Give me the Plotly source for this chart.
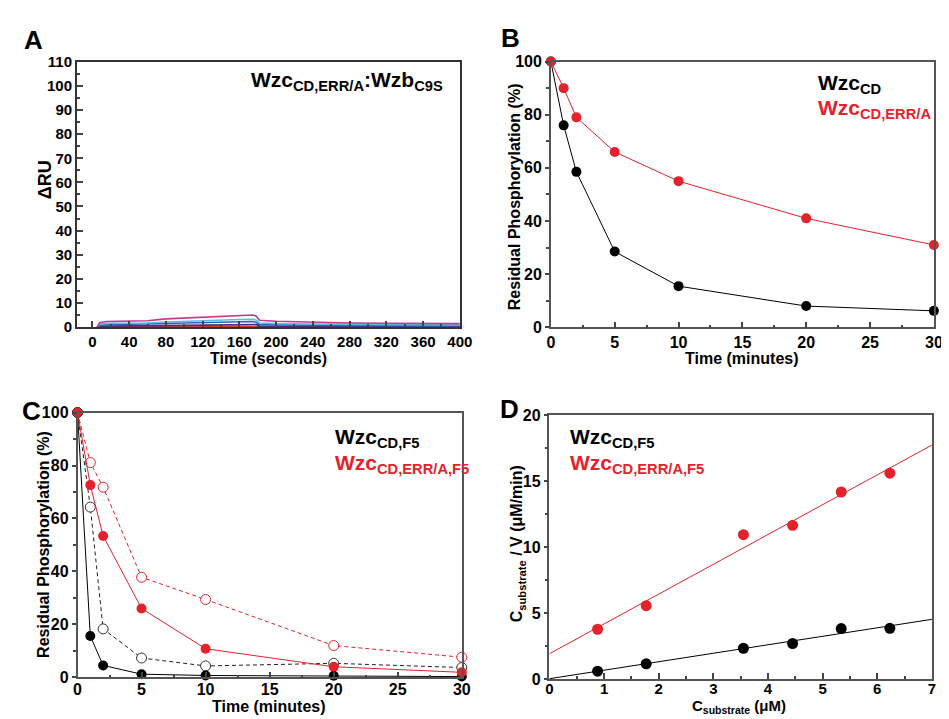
import numpy as np
import plotly.graph_objects as go

W, H = 949, 719
RED = "#e3222b"
FONT = "Liberation Sans, Arial, Helvetica, sans-serif"

# ---------- Panel A : SPR sensorgrams ----------
a_time = [5, 8, 15, 40, 60, 80, 100, 120, 140, 160, 175, 178, 182, 200, 240, 280, 320, 360, 400]
a_magenta = [0, 1.8, 2.3, 2.5, 2.6, 3.4, 3.8, 4.2, 4.6, 4.8, 5.0, 4.6, 2.8, 2.4, 1.9, 1.7, 1.6, 1.5, 1.4]
a_cyan = [0, 1.2, 1.5, 1.6, 1.7, 2.1, 2.4, 2.7, 3.0, 3.1, 3.2, 2.9, 1.7, 1.4, 1.2, 1.1, 1.0, 1.0, 0.9]
a_blue = [0, 0.8, 1.0, 1.1, 1.2, 1.5, 1.7, 1.9, 2.1, 2.2, 2.3, 2.0, 1.0, 0.9, 0.7, 0.6, 0.6, 0.5, 0.5]
a_purple = [0, 0.3, 0.4, 0.5, 0.5, 0.6, 0.7, 0.8, 1.0, 1.1, 1.2, 1.0, 0.4, 0.3, 0.3, 0.3, 0.2, 0.2, 0.2]
a_red = [0, 0.1, 0.1, 0.1, 0.1, 0.1, 0.1, 0.1, 0.15, 0.15, 0.15, 0.1, 0.1, 0.1, 0.1, 0.1, 0.1, 0.1, 0.1]

# ---------- Panel B ----------
b_time = [0, 1, 2, 5, 10, 20, 30]
b_wzc_cd = [100, 76, 58.5, 28.5, 15.5, 8, 6.2]
b_wzc_err = [100, 90, 79, 66, 55, 41, 31]

# ---------- Panel C ----------
c_time = [0, 1, 2, 5, 10, 20, 30]
c_f5_filled = [100, 15.6, 4.5, 1.2, 0.7, 0.6, 0.3]
c_f5_open = [100, 64.3, 18.3, 7.3, 4.3, 5.3, 3.7]
c_err_f5_filled = [100, 72.6, 53.4, 26, 10.8, 4.0, 1.9]
c_err_f5_open = [100, 81.1, 71.8, 37.8, 29.4, 12.0, 7.6]

# ---------- Panel D ----------
d_conc = [0.88, 1.77, 3.55, 4.45, 5.34, 6.23]
d_f5 = [0.59, 1.15, 2.33, 2.69, 3.82, 3.84]
d_err_f5 = [3.77, 5.56, 10.94, 11.65, 14.17, 15.6]
d_fit_x = [0, 7]

fig = go.Figure()

# Panel A traces
for ys, col in [(a_red, "#d23a3a"), (a_purple, "#4b2d86"), (a_blue, "#2f5fc4"),
                (a_cyan, "#4fc3dc"), (a_magenta, "#c8378f")]:
    fig.add_trace(go.Scatter(x=a_time, y=ys, mode="lines", line=dict(color=col, width=1.6),
                             xaxis="x", yaxis="y", showlegend=False))

# Panel B traces
fig.add_trace(go.Scatter(x=b_time, y=b_wzc_cd, mode="lines+markers",
                         line=dict(color="black", width=1), marker=dict(color="black", size=10),
                         xaxis="x2", yaxis="y2", showlegend=False, cliponaxis=False))
fig.add_trace(go.Scatter(x=b_time, y=b_wzc_err, mode="lines+markers",
                         line=dict(color=RED, width=1), marker=dict(color=RED, size=10),
                         xaxis="x2", yaxis="y2", showlegend=False, cliponaxis=False))

# Panel C traces
fig.add_trace(go.Scatter(x=c_time, y=c_err_f5_open, mode="lines+markers",
                         line=dict(color=RED, width=1, dash="4px,3px"),
                         marker=dict(color="white", size=10, line=dict(color=RED, width=1)),
                         xaxis="x3", yaxis="y3", showlegend=False, cliponaxis=False))
fig.add_trace(go.Scatter(x=c_time, y=c_f5_open, mode="lines+markers",
                         line=dict(color="#222", width=1, dash="4px,3px"),
                         marker=dict(color="white", size=10, line=dict(color="#333", width=1)),
                         xaxis="x3", yaxis="y3", showlegend=False, cliponaxis=False))
fig.add_trace(go.Scatter(x=c_time, y=c_f5_filled, mode="lines+markers",
                         line=dict(color="black", width=1), marker=dict(color="black", size=10),
                         xaxis="x3", yaxis="y3", showlegend=False, cliponaxis=False))
fig.add_trace(go.Scatter(x=c_time, y=c_err_f5_filled, mode="lines+markers",
                         line=dict(color=RED, width=1), marker=dict(color=RED, size=10),
                         xaxis="x3", yaxis="y3", showlegend=False, cliponaxis=False))

# Panel D traces (linear fits from the points)
for ys, col in [(d_f5, "black"), (d_err_f5, RED)]:
    slope, icpt = np.polyfit(d_conc, ys, 1)
    fit_y = [icpt + slope * xv for xv in d_fit_x]
    fig.add_trace(go.Scatter(x=d_fit_x, y=fit_y, mode="lines", line=dict(color=col, width=1),
                             xaxis="x4", yaxis="y4", showlegend=False))
    fig.add_trace(go.Scatter(x=d_conc, y=ys, mode="markers", marker=dict(color=col, size=11),
                             xaxis="x4", yaxis="y4", showlegend=False, cliponaxis=False))


def px(x):
    return x / W


def py(y):
    return 1 - y / H


tickfont = dict(family=FONT, size=16, color="black", weight="bold")
common = dict(showline=True, mirror=True, linecolor="#555", linewidth=1.5, showgrid=False,
              zeroline=False, tickfont=tickfont, tickcolor="#444", tickwidth=1.5)
fontA = dict(family=FONT, size=15, color="black", weight="bold")

fig.update_layout(
    width=W, height=H, margin=dict(l=0, r=0, t=0, b=0),
    paper_bgcolor="white", plot_bgcolor="white",
    font=dict(family=FONT, color="black", size=14),
    xaxis=dict(domain=[px(66), px(456)], range=[-17, 400], anchor="y",
               tickvals=[0, 40, 80, 120, 160, 200, 240, 280, 320, 360, 400],
               ticks="inside", ticklen=6, minor=dict(dtick=20, tick0=0, ticks="inside", ticklen=3, tickcolor="#444"),
               **{**common, "tickfont": fontA, "linecolor": "#333"}),
    yaxis=dict(domain=[py(318), py(46)], range=[0, 110], anchor="x", dtick=10,
               ticks="inside", ticklen=6, minor=dict(dtick=5, ticks="inside", ticklen=3, tickcolor="#444"),
               **{**common, "tickfont": fontA, "linecolor": "#333"}),
    xaxis2=dict(domain=[px(548.7), px(938.7)], range=[0, 30], anchor="y2", dtick=5,
                ticks="inside", ticklen=6, minor=dict(dtick=2.5, ticks="inside", ticklen=3, tickcolor="#444"), **common),
    yaxis2=dict(domain=[py(318.3), py(45.7)], range=[0, 100], anchor="x2", dtick=20,
                ticks="outside", ticklen=4, minor=dict(dtick=10, ticks="outside", ticklen=3, tickcolor="#444"), **common),
    xaxis3=dict(domain=[px(66.7), px(458)], range=[0, 30], anchor="y3", dtick=5, ticklabelstandoff=-3,
                ticks="inside", ticklen=6, minor=dict(dtick=2.5, ticks="inside", ticklen=3, tickcolor="#444"), **common),
    yaxis3=dict(domain=[py(677.3), py(405.7)], range=[0, 100], anchor="x3", dtick=20,
                ticks="outside", ticklen=4, minor=dict(dtick=10, ticks="outside", ticklen=3, tickcolor="#444"), **common),
    xaxis4=dict(domain=[px(547.3), px(936.7)], range=[0, 7], anchor="y4", dtick=1, ticklabelstandoff=-5,
                ticks="inside", ticklen=6, minor=dict(dtick=0.5, ticks="inside", ticklen=3, tickcolor="#444"),
                **{**common, "tickfont": fontA}),
    yaxis4=dict(domain=[py(679), py(408.3)], range=[0, 20], anchor="x4", dtick=5,
                ticks="outside", ticklen=4, minor=dict(dtick=2.5, ticks="outside", ticklen=3, tickcolor="#444"), **common),
)


def ann(text, x, y, size, color="black", xanchor="center", yanchor="middle", angle=0):
    fig.add_annotation(text=text, x=px(x), y=py(y), xref="paper", yref="paper",
                       xanchor=xanchor, yanchor=yanchor, showarrow=False, textangle=angle,
                       font=dict(family=FONT, size=size, color=color))


# Panel letters
ann("<b>A</b>", 22, 24, 26)
ann("<b>B</b>", 508, 22, 26)
ann("<b>C</b>", 20, 404, 26)
ann("<b>D</b>", 507, 402, 26)

# Axis titles
ann("<b>Time (seconds)</b>", 261, 350, 16)
ann("<b>ΔRU</b>", 33, 167, 18, angle=-90)
ann("<b>Time (minutes)</b>", 743, 350, 16)
ann("<b>Residual Phosphorylation (%)</b>", 512, 184, 16, angle=-90)
ann("<b>Time (minutes)</b>", 262, 707, 16)
ann("<b>Residual Phosphorylation (%)</b>", 32, 541, 16, angle=-90)
ann("<b>C<sub>substrate</sub> (μM)</b>", 740, 719, 15, yanchor="bottom")
ann("<b>C<sub>substrate</sub> / V (μM/min)</b>", 515, 540, 16, angle=-90)

# In-panel labels
ann("<b>Wzc<sub>CD,ERR/A</sub>:Wzb<sub>C9S</sub></b>", 241, 66, 21, xanchor="left")
ann("<b>Wzc<sub>CD</sub></b>", 819, 69, 21, xanchor="left")
ann("<b>Wzc<sub>CD,ERR/A</sub></b>", 819, 94, 21, color=RED, xanchor="left")
ann("<b>Wzc<sub>CD,F5</sub></b>", 327, 432, 21, xanchor="left")
ann("<b>Wzc<sub>CD,ERR/A,F5</sub></b>", 327, 458, 21, color=RED, xanchor="left")
ann("<b>Wzc<sub>CD,F5</sub></b>", 566, 432, 21, xanchor="left")
ann("<b>Wzc<sub>CD,ERR/A,F5</sub></b>", 566, 458, 21, color=RED, xanchor="left")

fig.write_html("out.html")
